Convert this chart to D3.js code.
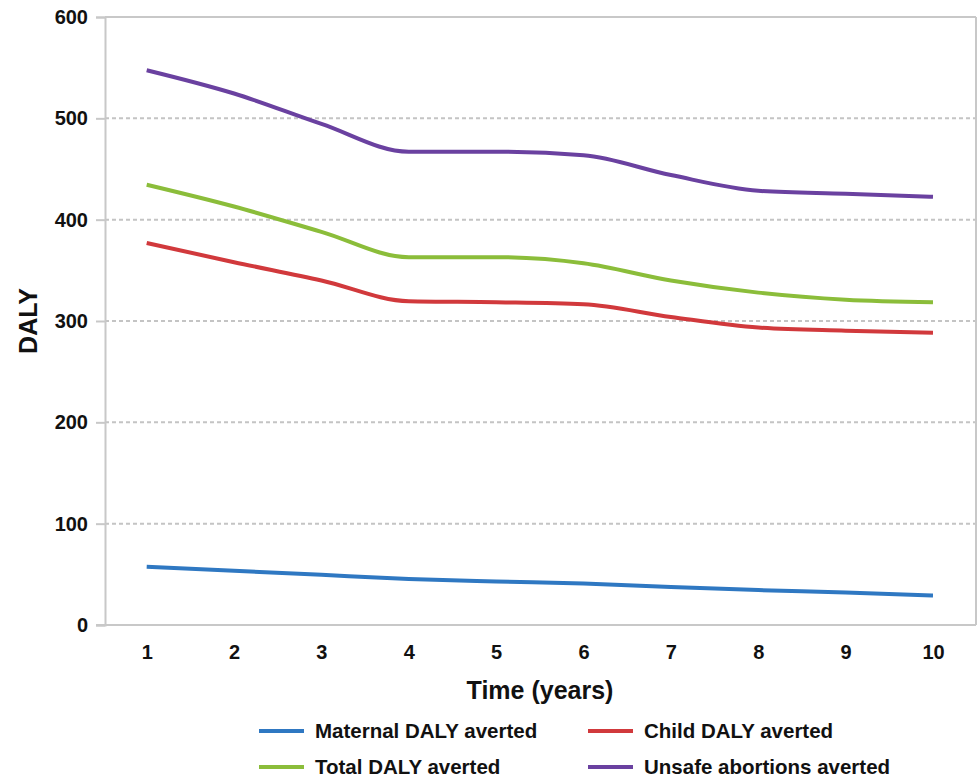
<!DOCTYPE html>
<html>
<head>
<meta charset="utf-8">
<script src="https://cdn.jsdelivr.net/npm/d3@7"></script>
<style>
  html, body { margin: 0; padding: 0; background: #fff; }
  svg { display: block; font-family: "Liberation Sans", Arial, sans-serif; }
</style>
</head>
<body>
<svg id="chart" width="979" height="778"></svg>
<script>
const years = [1, 2, 3, 4, 5, 6, 7, 8, 9, 10];
const maternal = [57.5, 53.5, 49.5, 45.5, 43, 41, 37.5, 34.5, 32, 29];
const child = [377, 358, 340, 319.5, 318.5, 316.5, 304, 293.5, 290.5, 288.5];
const total = [434.5, 413, 388, 363, 363, 357, 340, 328, 321, 318.5];
const unsafe = [547.5, 524.5, 494.5, 467, 467, 463.5, 444, 428.5, 425.5, 422.5];
const yTicks = [0, 100, 200, 300, 400, 500, 600];
const seriesNames = ["Maternal DALY averted", "Child DALY averted", "Total DALY averted", "Unsafe abortions averted"];
const seriesColors = ["#2f78c2", "#d1393c", "#8bbd3a", "#6a41a0"];
const seriesData = [maternal, child, total, unsafe];

const svg = d3.select("#chart");
const pLeft = 105, pRight = 976, pTop = 17, pBottom = 625;

const x = d3.scaleLinear().domain([1, 10]).range([146.7, 933]);
const y = d3.scaleLinear().domain([0, 600]).range([pBottom, pTop]);

// gridlines
svg.append("g").selectAll("line")
  .data(yTicks.filter(d => d > 0 && d < 600))
  .join("line")
  .attr("x1", pLeft).attr("x2", pRight)
  .attr("y1", d => y(d)).attr("y2", d => y(d))
  .attr("stroke", "#c4c4c4").attr("stroke-width", 2)
  .attr("stroke-dasharray", "4,3");

// frame: top, right
svg.append("line").attr("x1", pLeft).attr("x2", pRight).attr("y1", y(600)).attr("y2", y(600))
  .attr("stroke", "#c8c8c8").attr("stroke-width", 2);
svg.append("line").attr("x1", pRight).attr("x2", pRight).attr("y1", pTop).attr("y2", pBottom)
  .attr("stroke", "#c8c8c8").attr("stroke-width", 2);

// y axis
const yAxis = svg.append("g").attr("transform", `translate(${pLeft},0)`)
  .call(d3.axisLeft(y).tickValues(yTicks).tickSize(9).tickPadding(8).tickFormat(d3.format("d")));
yAxis.select(".domain").attr("stroke", "#c8c8c8").attr("stroke-width", 2);
yAxis.selectAll(".tick line").attr("stroke", "#c8c8c8").attr("stroke-width", 2);
yAxis.selectAll("text").attr("font-size", 20).attr("font-weight", "bold").attr("fill", "#111")
  .attr("font-family", "Liberation Sans, Arial, sans-serif");

// x axis
const xAxis = svg.append("g").attr("transform", `translate(0,${pBottom})`)
  .call(d3.axisBottom(x).tickValues(years).tickSize(0).tickPadding(20).tickFormat(d3.format("d")));
xAxis.select(".domain").remove();
xAxis.selectAll("text").attr("font-size", 20).attr("font-weight", "bold").attr("fill", "#111")
  .attr("font-family", "Liberation Sans, Arial, sans-serif");
svg.append("line").attr("x1", 96).attr("x2", pRight).attr("y1", pBottom).attr("y2", pBottom)
  .attr("stroke", "#c8c8c8").attr("stroke-width", 2);

// lines
const line = d3.line().x((d, i) => x(years[i])).y(d => y(d)).curve(d3.curveMonotoneX);
svg.append("g").selectAll("path")
  .data(seriesData)
  .join("path")
  .attr("d", d => line(d))
  .attr("fill", "none")
  .attr("stroke", (d, i) => seriesColors[i])
  .attr("stroke-width", 4);

// axis titles
svg.append("text").attr("x", 540).attr("y", 699).attr("text-anchor", "middle")
  .attr("font-size", 25).attr("font-weight", "bold").attr("fill", "#111").text("Time (years)");
svg.append("text").attr("transform", "translate(37,321) rotate(-90)").attr("text-anchor", "middle")
  .attr("font-size", 25).attr("font-weight", "bold").attr("fill", "#111").text("DALY");

// legend
const legendPos = [[259, 731], [588, 731], [259, 767], [588, 767]];
const lg = svg.append("g").selectAll("g").data(seriesNames).join("g")
  .attr("transform", (d, i) => `translate(${legendPos[i][0]},${legendPos[i][1]})`);
lg.append("line").attr("x1", 0).attr("x2", 45).attr("y1", 0).attr("y2", 0)
  .attr("stroke", (d, i) => seriesColors[i]).attr("stroke-width", 4);
lg.append("text").attr("x", 56).attr("y", 0).attr("dy", "0.35em")
  .attr("font-size", 20.5).attr("font-weight", "bold").attr("fill", "#111").text(d => d);
</script>
</body>
</html>
